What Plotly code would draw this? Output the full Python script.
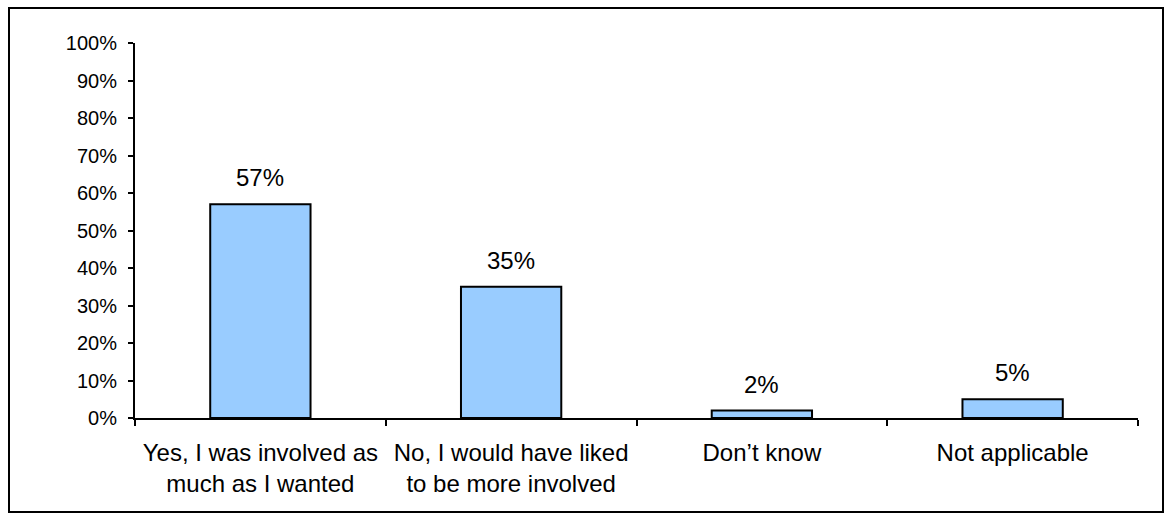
import plotly.graph_objects as go

categories = ["Yes, I was involved as<br>much as I wanted",
              "No, I would have liked<br>to be more involved",
              "Don’t know",
              "Not applicable"]
values = [0.57, 0.35, 0.02, 0.05]
value_labels = ["57%", "35%", "2%", "5%"]
y_ticks = [i / 10 for i in range(11)]
y_tick_labels = [f"{i * 10}%" for i in range(11)]

FONT = "Arial, Liberation Sans, sans-serif"
W, H = 1171, 520
L, R, T, B = 135, 33, 43, 102
pw, ph = W - L - R, H - T - B

fig = go.Figure()
fig.add_trace(go.Bar(
    x=categories, y=values,
    marker=dict(color="#99CCFF", line=dict(color="black", width=2)),
    hoverinfo="skip",
))

annotations = []
for c, v, t in zip(categories, values, value_labels):
    annotations.append(dict(x=c, y=v, text=t, showarrow=False, xref="x", yref="y",
                            yanchor="bottom", yshift=11,
                            font=dict(family=FONT, size=24, color="black")))

def px_x(p):
    return (p - L) / pw

def px_y(p):
    return (H - B - p) / ph

fig.update_layout(
    width=W, height=H,
    margin=dict(l=L, r=R, t=T, b=B, pad=0),
    paper_bgcolor="white", plot_bgcolor="white",
    bargap=0.6,
    showlegend=False,
    annotations=annotations,
    shapes=[dict(type="rect", xref="paper", yref="paper",
                 x0=px_x(9), x1=px_x(1163), y0=px_y(512), y1=px_y(8),
                 line=dict(color="black", width=2), fillcolor="rgba(0,0,0,0)",
                 layer="below")],
    xaxis=dict(
        type="category", range=[-0.5, 3.5],
        showline=True, linecolor="black", linewidth=2,
        ticks="outside", tickson="boundaries", ticklen=6, tickwidth=2, tickcolor="black",
        tickfont=dict(family=FONT, size=24, color="black"),
        ticklabelstandoff=12,
        showgrid=False, zeroline=False, fixedrange=True,
    ),
    yaxis=dict(
        range=[0, 1], tickvals=y_ticks, ticktext=y_tick_labels,
        showline=True, linecolor="black", linewidth=2,
        ticks="outside", ticklen=5, tickwidth=2, tickcolor="black",
        tickfont=dict(family=FONT, size=20, color="black"),
        ticklabelstandoff=7,
        showgrid=False, zeroline=False, fixedrange=True,
    ),
)

fig.write_html("out.html", config={"displayModeBar": False})
